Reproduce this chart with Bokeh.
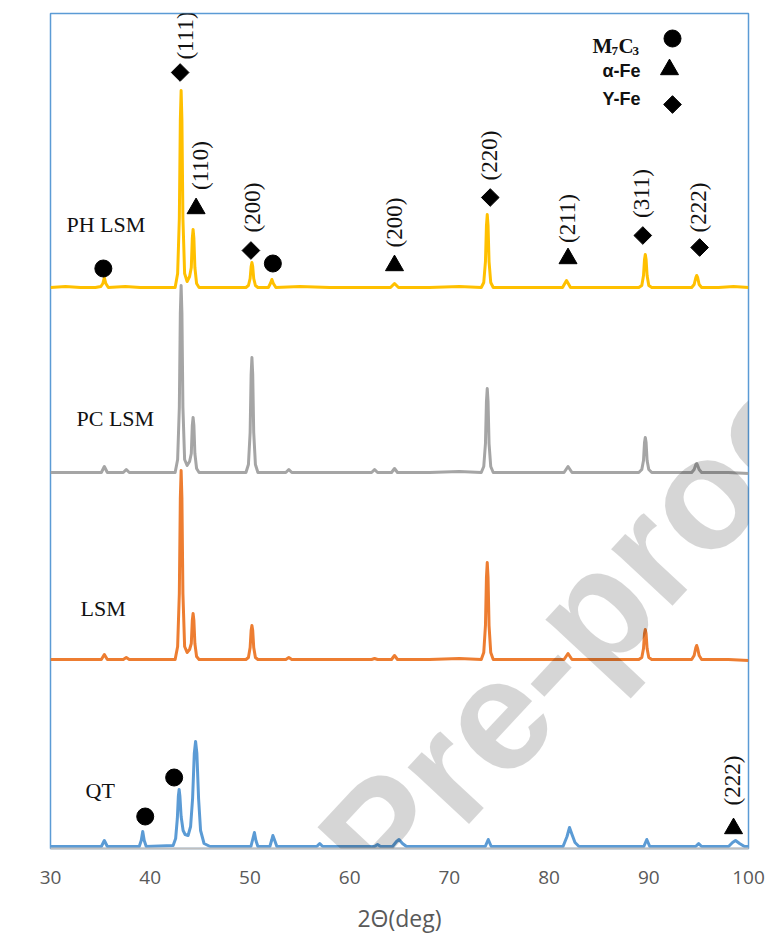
import numpy as np
from bokeh.plotting import figure
from bokeh.models import ColumnDataSource, LabelSet, Label, FixedTicker, Range1d
from bokeh.core.properties import value
from bokeh.embed import file_html
from bokeh.resources import INLINE

# ---------------- data (2theta in deg, intensity in a.u., offset-stacked) ----------------
ph_x = [30.0, 31.5, 33.0, 34.5, 35.05, 35.25, 35.4, 35.55, 35.8, 37.5, 39.0, 41.0, 42.5, 42.75, 42.92,
        43.02, 43.1, 43.18, 43.28, 43.45, 43.7, 43.95, 44.12, 44.22, 44.3, 44.38, 44.48, 44.65, 44.9,
        47.0, 49.6, 49.85, 50.02, 50.12, 50.2, 50.28, 50.38, 50.55, 50.8, 51.85, 52.05, 52.2, 52.35,
        52.6, 55.0, 58.0, 62.0, 64.1, 64.5, 64.9, 68.0, 71.0, 73.2, 73.45, 73.62, 73.72, 73.8, 73.88,
        73.98, 74.15, 74.4, 77.0, 80.0, 81.35, 81.75, 82.15, 85.0, 89.0, 89.3, 89.47, 89.57, 89.65,
        89.73, 89.83, 90.0, 90.3, 93.0, 94.3, 94.55, 94.72, 94.8, 94.9, 95.05, 95.3, 97.0, 98.5, 100.0]
ph_y = [561, 562, 561, 561, 562, 565, 571, 565, 561, 562, 561, 561, 561, 575, 630,
        728, 758, 728, 630, 575, 567, 572, 581, 610, 619, 610, 581, 565, 561,
        561, 561, 563, 570, 582, 586, 582, 570, 563, 561, 561, 565, 569, 565,
        561, 562, 561, 561, 561, 565, 561, 561, 562, 561, 566, 587, 623, 634, 623,
        587, 566, 561, 561, 561, 561, 568, 561, 561, 561, 563, 573, 589, 594,
        589, 573, 563, 561, 561, 561, 564, 571, 573, 571, 564, 561, 561, 562, 561]

pc_x = [30.0, 32.0, 34.0, 35.1, 35.4, 35.7, 37.3, 37.6, 37.9, 40.0, 42.5, 42.75, 42.92, 43.02, 43.1,
        43.18, 43.28, 43.45, 43.7, 43.95, 44.12, 44.22, 44.3, 44.38, 44.48, 44.65, 44.9, 47.0, 49.6,
        49.85, 50.02, 50.12, 50.2, 50.28, 50.38, 50.55, 50.8, 53.6, 53.9, 54.2, 58.0, 62.2, 62.5, 62.8,
        64.2, 64.5, 64.8, 68.0, 71.0, 73.2, 73.45, 73.62, 73.72, 73.8, 73.88, 73.98, 74.15, 74.4, 78.0,
        81.5, 81.9, 82.3, 86.0, 89.0, 89.3, 89.47, 89.57, 89.65, 89.73, 89.83, 90.0, 90.3, 93.0, 94.3,
        94.55, 94.72, 94.8, 94.9, 95.05, 95.3, 98.0, 100.0]
pc_y = [376, 376, 376, 376, 382, 376, 376, 379, 376, 376, 376, 389, 441, 535, 563,
        535, 441, 389, 383, 387, 395, 423, 431, 423, 395, 380, 376, 376, 376,
        384, 416, 474, 491, 474, 416, 384, 376, 376, 379, 376, 376, 376, 379, 376,
        376, 380, 376, 376, 377, 376, 382, 405, 447, 460, 447, 405, 382, 376, 376,
        376, 382, 376, 376, 376, 379, 388, 406, 411, 406, 388, 379, 376, 376, 376,
        379, 384, 385, 383, 379, 376, 376, 375]

lsm_x = [30.0, 32.0, 34.0, 35.1, 35.4, 35.7, 37.3, 37.6, 37.9, 40.0, 42.5, 42.75, 42.92, 43.02, 43.1,
         43.18, 43.28, 43.45, 43.7, 43.95, 44.12, 44.22, 44.3, 44.38, 44.48, 44.65, 44.9, 47.0, 49.6,
         49.85, 50.02, 50.12, 50.2, 50.28, 50.38, 50.55, 50.8, 53.6, 53.9, 54.2, 58.0, 62.2, 62.5, 62.8,
         64.2, 64.5, 64.8, 68.0, 71.0, 73.2, 73.45, 73.62, 73.72, 73.8, 73.88, 73.98, 74.15, 74.4, 78.0,
         81.5, 81.9, 82.3, 86.0, 89.0, 89.3, 89.47, 89.57, 89.65, 89.73, 89.83, 90.0, 90.3, 93.0, 94.3,
         94.55, 94.72, 94.8, 94.9, 95.05, 95.3, 98.0, 100.0]
lsm_y = [189, 189, 189, 189, 194, 189, 189, 191, 189, 189, 189, 202, 255, 350, 378,
         350, 255, 202, 196, 199, 205, 228, 235, 228, 205, 192, 189, 189, 189,
         191, 201, 218, 223, 218, 201, 191, 189, 189, 191, 189, 189, 189, 190, 189,
         189, 193, 189, 189, 190, 189, 196, 223, 271, 286, 271, 223, 196, 189, 189,
         189, 195, 189, 189, 189, 191, 200, 215, 219, 215, 200, 191, 189, 189, 189,
         193, 201, 203, 200, 193, 189, 189, 188]

qt_x = [30.0, 33.0, 35.1, 35.4, 35.7, 38.9, 39.1, 39.25, 39.4, 39.6, 42.3, 42.55, 42.72, 42.82, 42.9,
        42.98, 43.1, 43.3, 43.5, 43.8, 44.05, 44.25, 44.42, 44.55, 44.68, 44.85, 45.05, 45.4, 46.0,
        50.1, 50.3, 50.45, 50.6, 50.8, 52.0, 52.2, 52.3, 52.45, 52.7, 56.7, 57.0, 57.3, 62.5, 62.8,
        63.1, 64.3, 64.7, 64.95, 65.3, 65.7, 73.6, 73.9, 74.2, 81.4, 81.8, 82.05, 82.3, 82.6, 83.0,
        89.5, 89.8, 90.1, 94.7, 95.0, 95.3, 98.0, 98.4, 98.7, 99.1, 99.6, 100.0]
qt_y = [2, 2, 2, 8, 2, 2, 8, 17, 8, 2, 3, 10, 30, 52, 59,
        52, 32, 18, 14, 13, 22, 50, 95, 107, 95, 50, 18, 5, 2,
        2, 10, 16, 8, 2, 2, 9, 13, 9, 2, 2, 5, 2, 2, 4,
        2, 2, 7, 9, 5, 2, 2, 9, 2, 2, 12, 21, 14, 6, 2,
        2, 9, 2, 2, 5, 2, 2, 6, 8, 5, 2, 2]

series_names = ["QT", "LSM", "PC LSM", "PH LSM"]
series_colors = ["#5B9BD5", "#ED7D31", "#A5A5A5", "#FFC000"]

# phase markers: (2theta, plotted height)
gamma_x = [43.0, 50.1, 74.1, 89.4, 95.1]
gamma_y = [776, 598, 651, 613, 601]
alpha_x = [44.6, 64.5, 81.9, 98.5]
alpha_y = [640, 583, 590, 20]
carb_x = [35.3, 52.3, 39.5, 42.4]
carb_y = [580, 585, 32, 71]

hkl_text = ["(111)", "(110)", "(200)", "(200)", "(220)", "(211)", "(311)", "(222)", "(222)"]
hkl_x = [43.54, 45.04, 50.26, 64.50, 74.03, 81.85, 89.27, 94.99, 98.40]
hkl_y = [813, 683, 641, 626, 693, 630, 655, 641, 68]

x_ticks = [30, 40, 50, 60, 70, 80, 90, 100]

for a, b in [(ph_x, ph_y), (pc_x, pc_y), (lsm_x, lsm_y), (qt_x, qt_y)]:
    assert len(a) == len(b)

# ---------------- figure ----------------
W, H = 765, 937
FL, FR, FT, FB = 50, 748, 13, 848          # frame edges in pixels
X0, X1, Y0, Y1 = 30, 100, 0, 835


def px2x(px):
    return X0 + (px - FL) * (X1 - X0) / (FR - FL)


def px2y(py):
    return Y0 + (FB - py) * (Y1 - Y0) / (FB - FT)


p = figure(width=W, height=H, output_backend="svg", toolbar_location=None,
           x_range=Range1d(X0, X1), y_range=Range1d(Y0, Y1), y_axis_location=None,
           min_border_left=FL, min_border_right=W - FR, min_border_top=FT, min_border_bottom=H - FB)
p.xgrid.visible = False
p.ygrid.visible = False
p.outline_line_color = "#5B9BD5"
p.outline_line_width = 1.5
p.background_fill_color = "white"
p.border_fill_color = "white"

ax = p.xaxis[0]
ax.ticker = FixedTicker(ticks=x_ticks)
ax.axis_line_color = "#BFBFBF"
ax.axis_line_width = 2
ax.major_tick_line_color = None
ax.minor_tick_line_color = None
ax.major_tick_out = 0
ax.major_tick_in = 0
ax.minor_tick_out = 0
ax.major_label_standoff = 22
ax.major_label_text_font = "Open Sans"
ax.major_label_text_font_size = "19px"
ax.major_label_text_color = "#595959"
ax.axis_label = "2Θ(deg)"
ax.axis_label_text_font = "Open Sans"
ax.axis_label_text_font_size = "23px"
ax.axis_label_text_font_style = "normal"
ax.axis_label_text_color = "#595959"
ax.axis_label_standoff = 15

# curves
for xs, ys, c in [(qt_x, qt_y, series_colors[0]), (lsm_x, lsm_y, series_colors[1]),
                  (pc_x, pc_y, series_colors[2]), (ph_x, ph_y, series_colors[3])]:
    p.line(xs, ys, line_color=c, line_width=3, line_join="round")

# phase markers
p.scatter(carb_x, carb_y, marker="circle", size=17, fill_color="black", line_color="black")
p.scatter(alpha_x, alpha_y, marker="triangle", size=18, fill_color="black", line_color="black")
p.scatter(gamma_x, gamma_y, marker="square", angle=np.pi / 4, size=12.5, fill_color="black", line_color="black")

# hkl labels
hkl_src = ColumnDataSource(dict(x=hkl_x, y=hkl_y, t=hkl_text))
p.add_layout(LabelSet(x="x", y="y", text="t", source=hkl_src, angle=np.pi / 2,
                      text_align="center", text_baseline="middle",
                      text_font=value("Liberation Serif"), text_font_size="23px", text_color="#111111"))

# curve names
name_px = [(66, 224), (76, 418), (80, 608), (85, 790)]
name_src = ColumnDataSource(dict(x=[px2x(a) for a, b in name_px], y=[px2y(b) for a, b in name_px],
                                 t=["PH LSM", "PC LSM", "LSM", "QT"]))
p.add_layout(LabelSet(x="x", y="y", text="t", source=name_src, text_align="left", text_baseline="middle",
                      text_font=value("Liberation Serif"), text_font_size="22px", text_color="#111111"))

# legend (phase key)
p.scatter([px2x(672)], [px2y(38)], marker="circle", size=17, fill_color="black", line_color="black")
p.scatter([px2x(669)], [px2y(69)], marker="triangle", size=18, fill_color="black", line_color="black")
p.scatter([px2x(672)], [px2y(104)], marker="square", angle=np.pi / 4, size=12.5, fill_color="black",
          line_color="black")
for txt, x, yb, size in [("M", 592, 45, "21px"), ("7", 611, 50, "13px"), ("C", 618, 45, "21px"),
                         ("3", 632, 50, "13px")]:
    p.add_layout(Label(x=px2x(x), y=px2y(yb), text=txt, text_align="left", text_baseline="alphabetic",
                       text_font="Liberation Serif", text_font_style="bold", text_font_size=size,
                       text_color="#111111"))
for txt, yc in [("α-Fe", 70), ("Υ-Fe", 98)]:
    p.add_layout(Label(x=px2x(640), y=px2y(yc), text=txt, text_align="right", text_baseline="middle",
                       text_font="Liberation Sans", text_font_style="bold", text_font_size="18px",
                       text_color="#111111"))

# y axis title
p.add_layout(Label(x=px2x(20), y=px2y(430), text="Intensity", angle=np.pi / 2, text_align="center",
                   text_baseline="middle", text_font="Open Sans", text_font_size="22px",
                   text_color="#595959"))

# watermark (single rotated line, left-aligned start computed from where "P" sits)
th = np.deg2rad(47.0)
fs = 158
p_px, p_py = 349, 871                 # left baseline point of "P"
back = 3.89 * fs                      # width of "Journal " in Liberation Sans Bold
sx, sy = p_px - back * np.cos(th), p_py + back * np.sin(th)
p.add_layout(Label(x=px2x(sx), y=px2y(sy), text="Journal Pre-proof", angle=th, text_align="left",
                   text_baseline="alphabetic", text_font="Liberation Sans", text_font_style="bold",
                   text_font_size=f"{fs}px", text_color="black", text_alpha=0.16))

open("out.html", "w").write(file_html(p, INLINE))
